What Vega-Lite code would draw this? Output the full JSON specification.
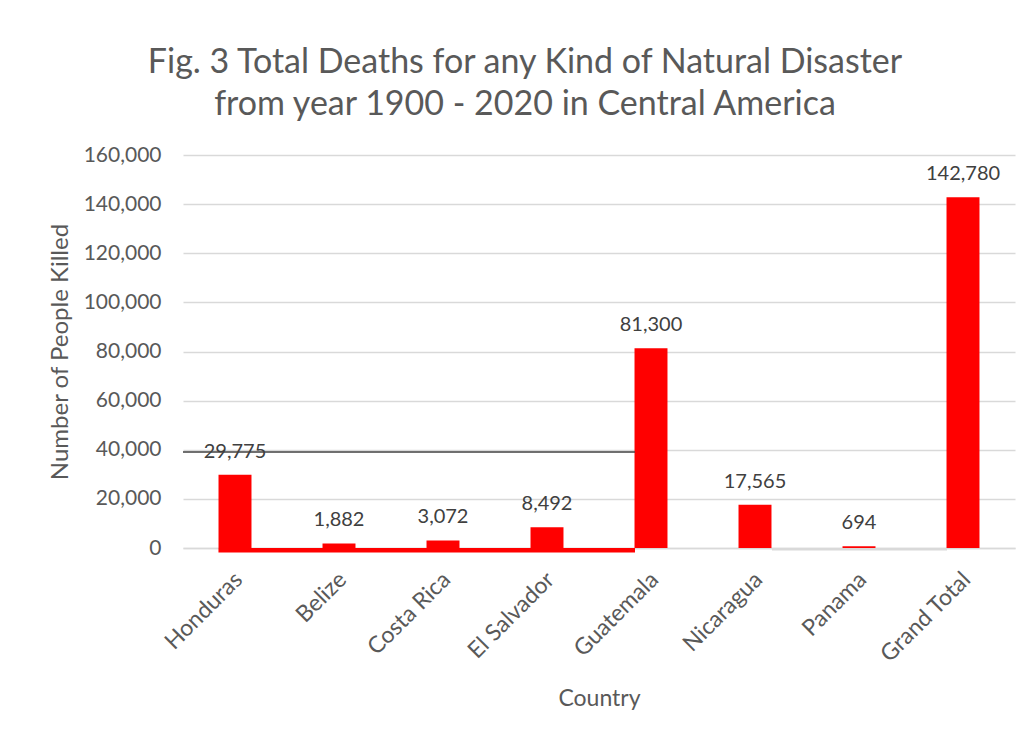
{
  "$schema": "https://vega.github.io/schema/vega-lite/v6.json",
  "width": 832,
  "height": 393,
  "autosize": {"type": "none"},
  "padding": {"left": 183, "top": 155, "right": 17, "bottom": 189},
  "background": "white",
  "config": {
    "view": {"stroke": null},
    "font": "Lato",
    "axis": {"labelFont": "Lato", "titleFont": "Lato", "labelColor": "#595959", "titleColor": "#595959", "titleFontWeight": "normal"}
  },
  "title": {
    "text": ["Fig. 3 Total Deaths for any Kind of Natural Disaster", "from year 1900 - 2020 in Central America"],
    "font": "Lato",
    "fontSize": 34,
    "fontWeight": "normal",
    "color": "#595959",
    "lineHeight": 42,
    "anchor": "middle",
    "dx": -74,
    "offset": 22
  },
  "datasets": {
    "deaths": [
      {"country": "Honduras", "killed": 29775},
      {"country": "Belize", "killed": 1882},
      {"country": "Costa Rica", "killed": 3072},
      {"country": "El Salvador", "killed": 8492},
      {"country": "Guatemala", "killed": 81300},
      {"country": "Nicaragua", "killed": 17565},
      {"country": "Panama", "killed": 694},
      {"country": "Grand Total", "killed": 142780}
    ],
    "refline": [{"from": 0, "to": 4.346, "level": 39100}],
    "redstrip": [{"from": 0.341, "to": 4.346, "top": 0, "bottom": -1850}],
    "graystrip": [{"from": 5.663, "to": 7.346, "top": 0, "bottom": -1000}]
  },
  "layer": [
    {
      "data": {"name": "deaths"},
      "encoding": {
        "x": {
          "field": "country", "type": "nominal", "sort": null,
          "scale": {"paddingInner": 0.683, "paddingOuter": 0.3415},
          "axis": {
            "title": "Country", "titleFontSize": 23, "titlePadding": 21,
            "labelFontSize": 23, "labelAngle": -45, "labelPadding": 20, "labelOffset": -4,
            "ticks": false, "tickSize": 0, "domainColor": "#d9d9d9", "domainWidth": 1.3,
            "grid": false
          }
        },
        "y": {
          "field": "killed", "type": "quantitative",
          "scale": {"domain": [0, 160000], "nice": false},
          "axis": {
            "title": "Number of People Killed", "titleFontSize": 24, "titlePadding": 11,
            "labelFontSize": 21, "labelPadding": 22, "format": ",d",
            "values": [0, 20000, 40000, 60000, 80000, 100000, 120000, 140000, 160000],
            "ticks": false, "tickSize": 0, "domain": false,
            "grid": true, "gridColor": "#d9d9d9", "gridWidth": 1.3
          }
        }
      },
      "layer": [
        {"mark": {"type": "bar", "color": "#ff0000"}},
        {
          "mark": {"type": "text", "fontSize": 20, "color": "#404040", "baseline": "middle", "dy": -23},
          "encoding": {"text": {"field": "killed", "type": "quantitative", "format": ",d"}}
        }
      ]
    },
    {
      "data": {"name": "redstrip"},
      "mark": {"type": "rect", "color": "#ff0000"},
      "encoding": {
        "x": {"field": "from", "type": "quantitative", "scale": {"domain": [0, 8], "nice": false, "zero": false}, "axis": null},
        "x2": {"field": "to"},
        "y": {"field": "top", "type": "quantitative"},
        "y2": {"field": "bottom"}
      }
    },
    {
      "data": {"name": "graystrip"},
      "mark": {"type": "rect", "color": "#d9d9d9"},
      "encoding": {
        "x": {"field": "from", "type": "quantitative", "scale": {"domain": [0, 8], "nice": false, "zero": false}, "axis": null},
        "x2": {"field": "to"},
        "y": {"field": "top", "type": "quantitative"},
        "y2": {"field": "bottom"}
      }
    },
    {
      "data": {"name": "refline"},
      "mark": {"type": "rule", "color": "#404040", "strokeWidth": 1.6},
      "encoding": {
        "x": {"field": "from", "type": "quantitative", "scale": {"domain": [0, 8], "nice": false, "zero": false}, "axis": null},
        "x2": {"field": "to"},
        "y": {"field": "level", "type": "quantitative"}
      }
    }
  ],
  "resolve": {"scale": {"x": "independent"}, "axis": {"x": "independent"}}
}
